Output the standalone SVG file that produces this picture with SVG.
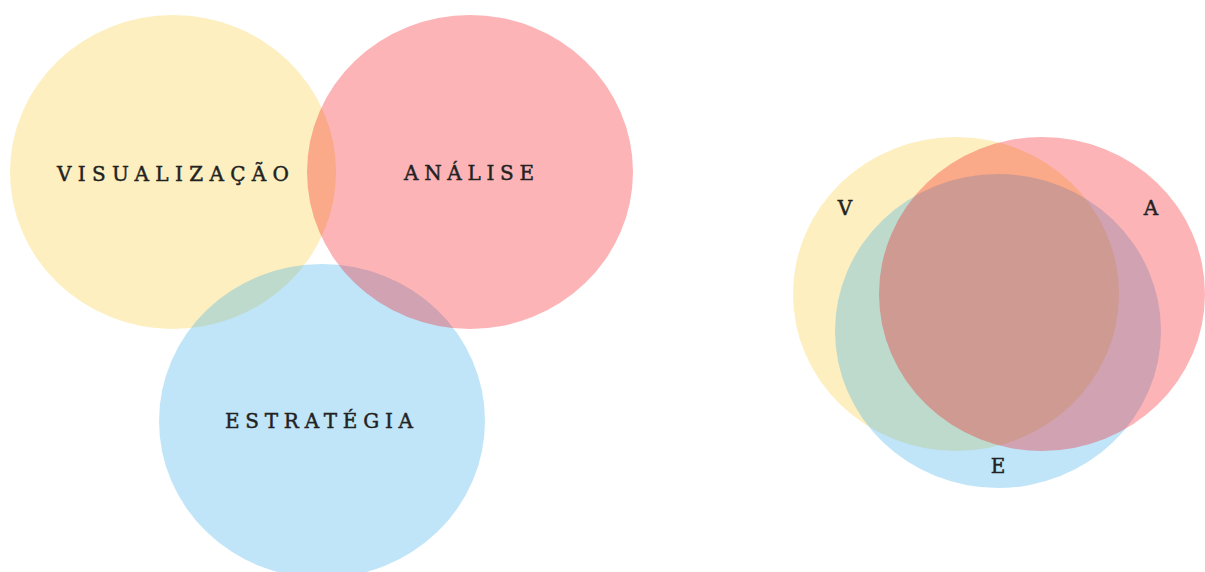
<svg xmlns="http://www.w3.org/2000/svg" width="1205" height="572" viewBox="0 0 1205 572">
  <style>
    .v { fill: rgb(248,202,42); fill-opacity: 0.3; }
    .e { fill: rgb(48,168,235); fill-opacity: 0.3; }
    .a { fill: rgb(245,8,12); fill-opacity: 0.3; }
    .lbl { font-family: "DejaVu Serif", "Liberation Serif", serif; font-size: 20px; fill: #222; stroke: #222; stroke-width: 0.45; }
  </style>
  <rect width="1205" height="572" fill="#fff"/>

  <!-- separate three-set diagram -->
  <g id="visualizacao">
    <ellipse class="v" cx="173" cy="172" rx="163" ry="157"/>
    <text class="lbl" x="57" y="181" textLength="232" lengthAdjust="spacing">VISUALIZAÇÃO</text>
  </g>
  <g id="estrategia">
    <ellipse class="e" cx="322" cy="421" rx="163" ry="157"/>
    <text class="lbl" x="225" y="428" textLength="188" lengthAdjust="spacing">ESTRATÉGIA</text>
  </g>
  <g id="analise">
    <ellipse class="a" cx="470" cy="172" rx="163" ry="157"/>
    <text class="lbl" x="404" y="180" textLength="130" lengthAdjust="spacing">ANÁLISE</text>
  </g>

  <!-- overlapping three-set diagram -->
  <g id="v">
    <ellipse class="v" cx="956" cy="294" rx="163" ry="157"/>
    <text class="lbl" x="845" y="215" text-anchor="middle">V</text>
  </g>
  <g id="e">
    <ellipse class="e" cx="998" cy="331" rx="163" ry="157"/>
    <text class="lbl" x="998" y="473" text-anchor="middle">E</text>
  </g>
  <g id="a">
    <ellipse class="a" cx="1042" cy="294" rx="163" ry="157"/>
    <text class="lbl" x="1151" y="215" text-anchor="middle">A</text>
  </g>

  <g id="connectors"/>
</svg>
